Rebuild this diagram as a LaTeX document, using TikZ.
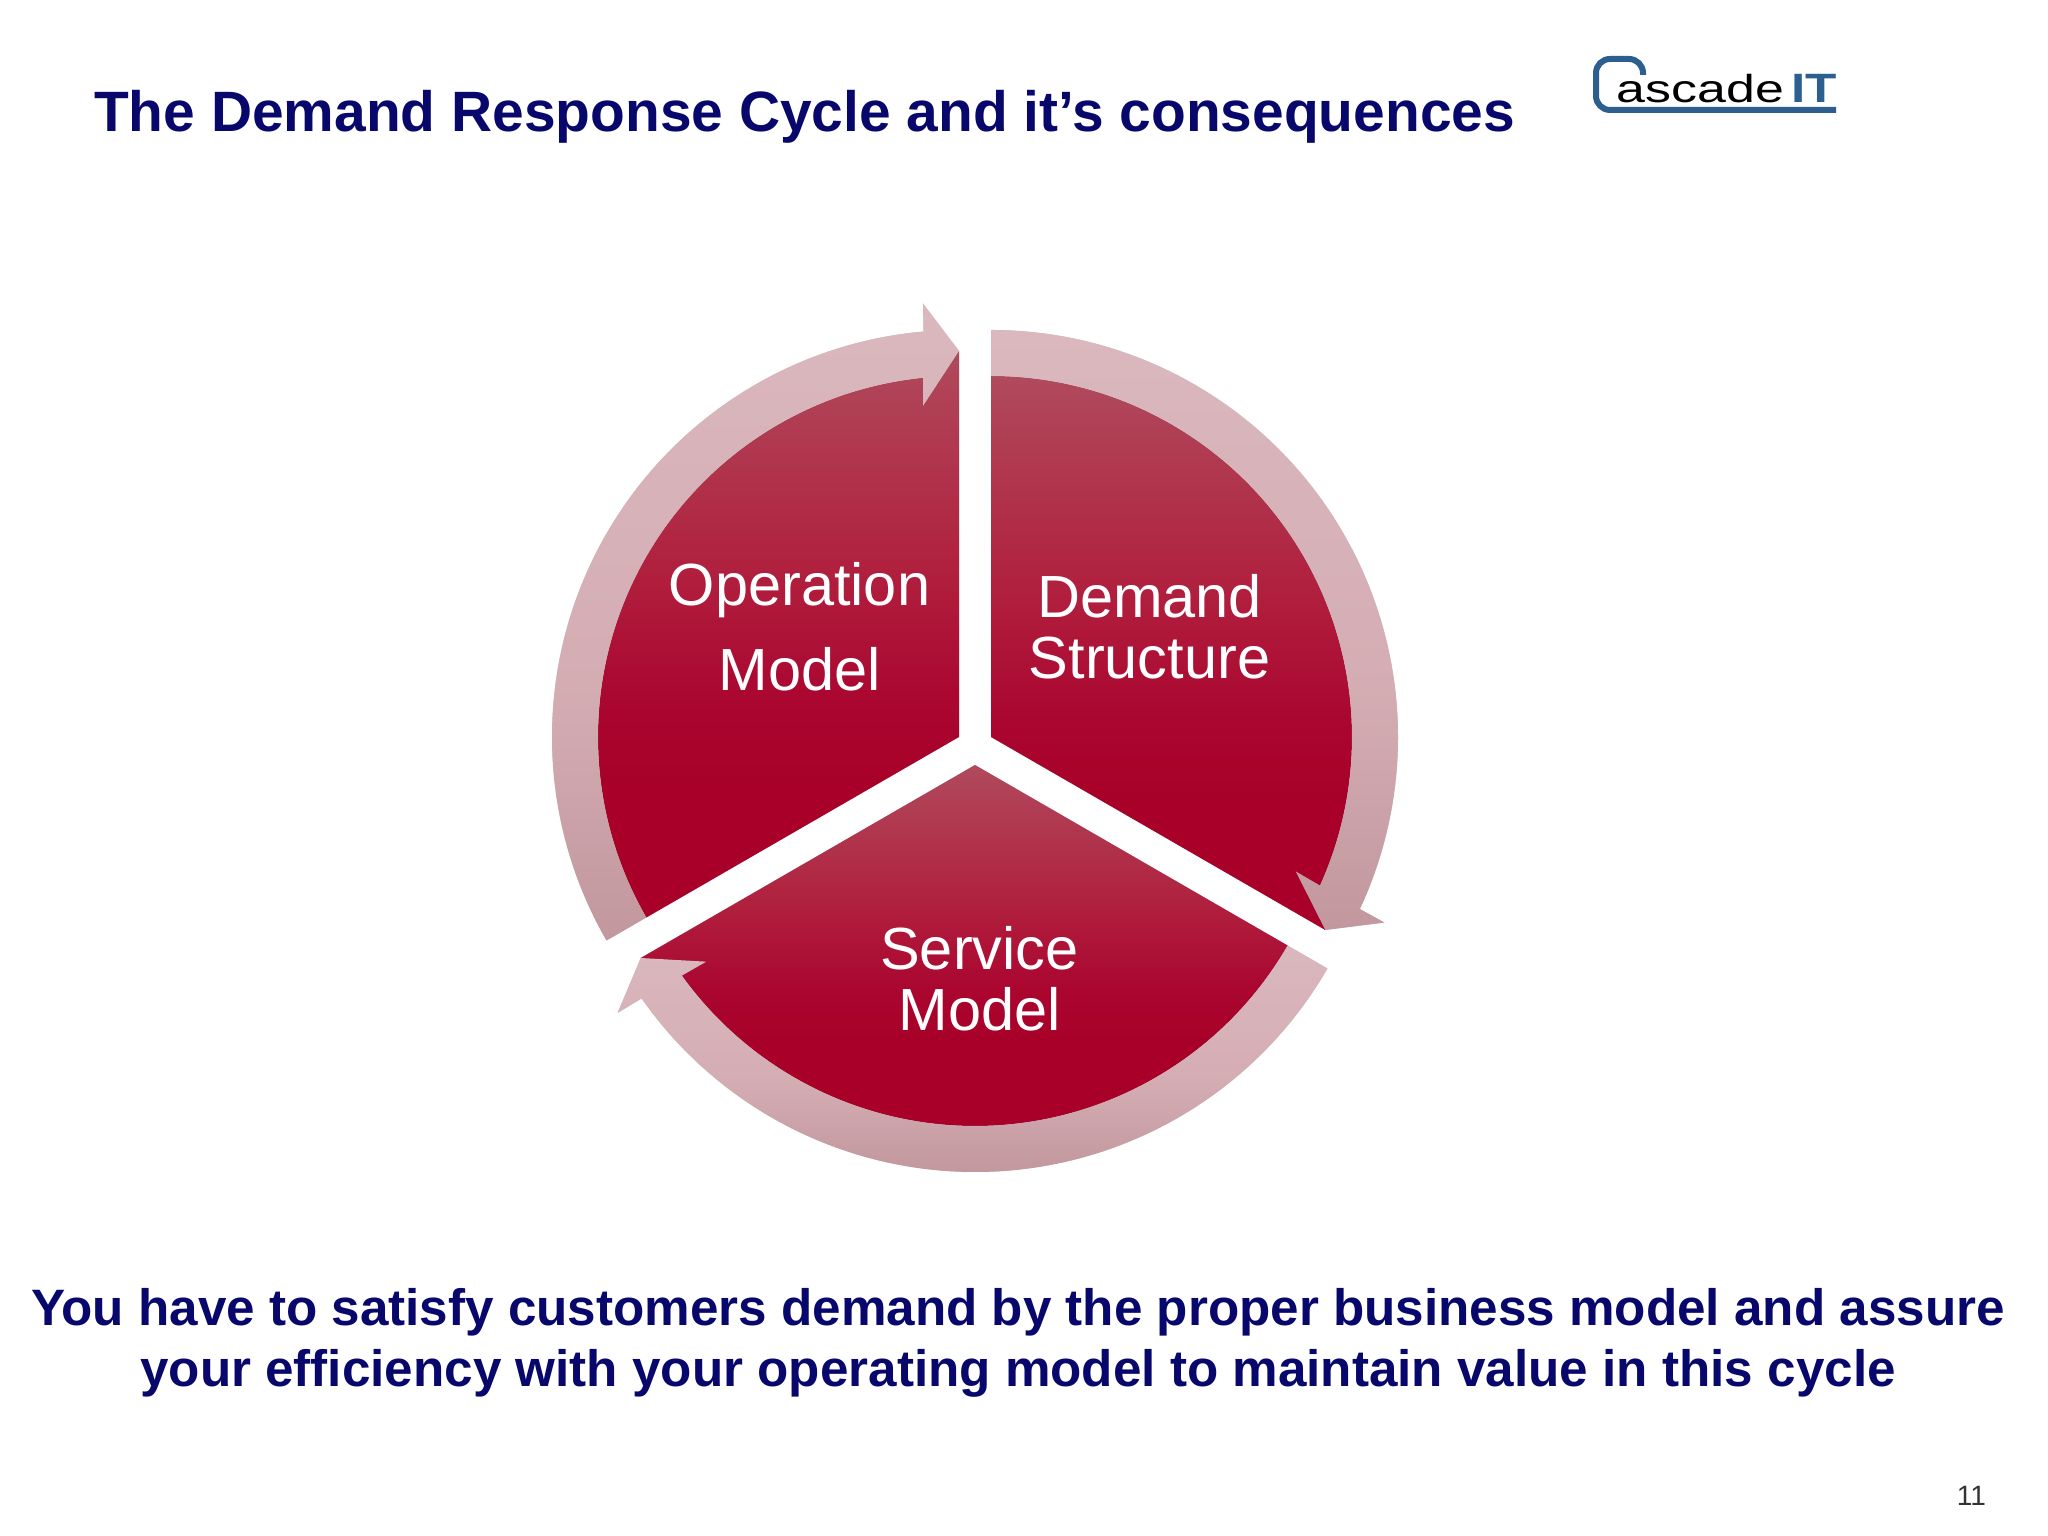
\documentclass[tikz,border=0pt]{standalone}
\usepackage{fontspec}
\setmainfont{Liberation Sans}
\usetikzlibrary{calc}
\definecolor{navy}{HTML}{08086C}
\definecolor{logoblue}{HTML}{2C5F8F}
\definecolor{sectop}{HTML}{B04A5C}
\definecolor{secmid}{HTML}{B01C3C}
\definecolor{seclow}{HTML}{AA0630}
\definecolor{secbot}{HTML}{A80028}
\definecolor{ringtop}{HTML}{DAB8BE}
\definecolor{ringmid}{HTML}{D4ADB3}
\definecolor{ringbot}{HTML}{C2979E}
\pgfdeclareverticalshading{secshade}{100bp}{color(0bp)=(secbot); color(25bp)=(secbot); color(36bp)=(secbot); color(44bp)=(seclow); color(54bp)=(secmid); color(75bp)=(sectop); color(100bp)=(sectop)}
\pgfdeclareverticalshading{ringshade}{100bp}{color(0bp)=(ringbot); color(25bp)=(ringbot); color(45bp)=(ringmid); color(75bp)=(ringtop); color(100bp)=(ringtop)}
\tikzset{
  sectorfill/.style={shading=secshade},
  ringfill/.style={shading=ringshade},
  softshadow/.style={fill=black,fill opacity=0.075,draw=none},
  sectorlabel/.style={text=white,align=center,inner sep=0pt},
  headline/.style={text=navy,font=\bfseries\fontsize{56.9}{61}\selectfont,inner sep=0pt,anchor=base west},
  closing/.style={text=navy,align=center,font=\bfseries\fontsize{51.2}{61}\selectfont,inner sep=0pt},
}
% #1 apex, #2 start angle; both shapes run clockwise for 120 degrees and end at the arrow tip
\newcommand{\sectorpath}[2]{(#1) -- ($(#1)+(#2:361pt)$) arc[start angle=#2,delta angle=-114.3,radius=361pt] -- ($(#1)+(#2-120:386pt)$) -- cycle}
\newcommand{\ringpath}[2]{($(#1)+(#2:361pt)$) -- ($(#1)+(#2:407pt)$)
  arc[start angle=#2,delta angle=-115,radius=407pt]
  -- ($(#1)+(#2-115.25:435pt)$) -- ($(#1)+(#2-120:386pt)$) -- ($(#1)+(#2-113.8:333pt)$)
  -- ($(#1)+(#2-114.3:361pt)$)
  arc[start angle=#2-114.3,delta angle=114.3,radius=361pt] -- cycle}
\begin{document}
\begin{tikzpicture}[x=1pt,y=1pt]
\useasboundingbox (0,0) rectangle (2048,1536);
\fill[white] (0,0) rectangle (2048,1536);
\coordinate (apexR) at (991,799);
\coordinate (apexL) at (959,799);
\coordinate (apexB) at (975,771);
% sectors
\foreach \off in {2,4,6}{
  \begin{scope}[yshift=-\off pt]
    \fill[softshadow] \sectorpath{apexR}{90};
    \fill[softshadow] \sectorpath{apexL}{210};
    \fill[softshadow] \sectorpath{apexB}{-30};
  \end{scope}}
\shade[sectorfill] \sectorpath{apexR}{90};
\shade[sectorfill] \sectorpath{apexL}{210};
\shade[sectorfill] \sectorpath{apexB}{-30};
% rings with arrowheads
\foreach \off in {2,4,6}{
  \begin{scope}[yshift=-\off pt]
    \fill[softshadow] \ringpath{apexR}{90};
    \fill[softshadow] \ringpath{apexL}{210};
    \fill[softshadow] \ringpath{apexB}{-30};
  \end{scope}}
\shade[ringfill] \ringpath{apexR}{90};
\shade[ringfill] \ringpath{apexL}{210};
\shade[ringfill] \ringpath{apexB}{-30};
% sector labels
\node[sectorlabel,font=\fontsize{59.5}{85}\selectfont] (operation) at (799.5,909) {Operation\\Model};
\node[sectorlabel,font=\fontsize{59.5}{61}\selectfont] (demand) at (1149.5,909) {Demand\\Structure};
\node[sectorlabel,font=\fontsize{59.5}{61}\selectfont] (service) at (979.5,557) {Service\\Model};
% title and closing text
\node[headline] (title) at (94,1404) {The Demand Response Cycle and it’s consequences};
\node[closing] (closing) at (1018,193) {You have to satisfy customers demand by the proper business model and assure\\your efficiency with your operating model to maintain value in this cycle};
\node[inner sep=0pt,anchor=base east,font=\fontsize{28}{30}\selectfont,text=black!80] (page) at (1986,30) {11};
% logo
\draw[logoblue,line width=6pt,rounded corners=14pt] (1643,1461) -- (1643,1477) -- (1596,1477) -- (1596,1426) -- (1836,1426);
\node[inner sep=0pt,anchor=base,font=\fontsize{39}{40}\selectfont,text=black] (logotext) at (1700.5,1433) {\scalebox{1.33}[1]{ascade}};
\node[inner sep=0pt,anchor=base,font=\fontsize{41}{42}\selectfont,text=logoblue] (logoit) at (1814.5,1433) {\scalebox{1.25}[1]{\bfseries IT}};
\end{tikzpicture}
\end{document}
